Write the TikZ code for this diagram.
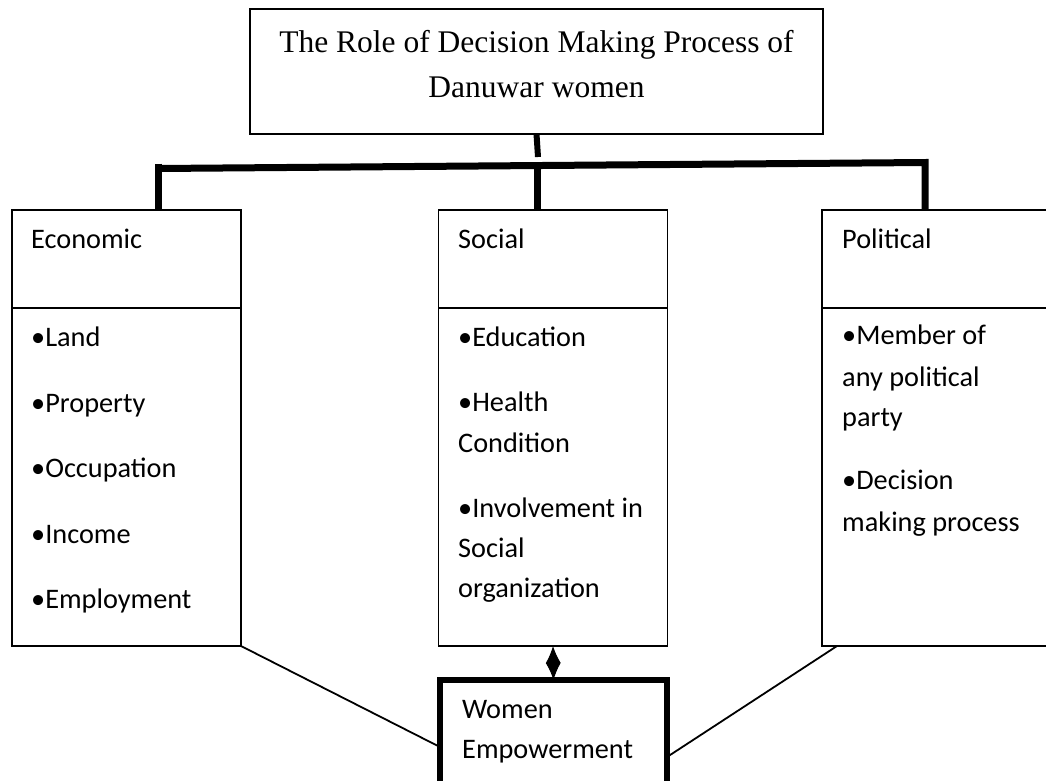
\documentclass[tikz,border=0pt]{standalone}
\usepackage{fontspec}
\setmainfont{Liberation Serif}
\newfontfamily\carlito{Carlito}
\usetikzlibrary{calc,arrows.meta}
\tikzset{
    box/.style = {
        draw, rectangle,
        outer sep=0,
        inner sep=0,
        line width=1.8pt
    },
    head/.style = {
        box,
        minimum width={229pt},
        minimum height={98pt}
    },
    list/.style = {
        box,
        minimum width={229pt},
        minimum height={338pt}
    },
    txt/.style = {
        anchor=base west,
        inner sep=0,
        font=\carlito\fontsize{28.3}{41}\selectfont
    },
    ttl/.style = {
        anchor=base,
        inner sep=0,
        font=\fontsize{31.5}{46}\selectfont
    },
    bar/.style = {
        line width=7pt
    }
}

\begin{document}
\begin{tikzpicture}[x=1pt,y=-1pt]
\useasboundingbox (0,0) rectangle (1046,780);
\clip (0,0) rectangle (1046,780);

% 1. title box
\node[box,minimum width={573pt},minimum height={125pt}] (title) at (536.5,71.5) {};
\node[ttl] (ttl1) at (536.5,52) {The Role of Decision Making Process of};
\node[ttl] (ttl2) at (536.5,97) {Danuwar women};

% 2. header and list boxes
\node[head] (ecoH) at (126.5,259) {};
\node[list] (ecoL) at (126.5,477) {};
\node[head] (socH) at (553,259) {};
\node[list] (socL) at (553,477) {};
\node[head] (polH) at (936.5,259) {};
\node[list] (polL) at (936.5,477) {};
\node[box,line width=6pt,minimum width={227pt},minimum height={134pt}] (we) at (553.5,747) {};

% 3. texts -- one node per line
\node[txt] (ecoT) at (31,248) {Economic};
\node[txt] (socT) at (458,248) {Social};
\node[txt] (polT) at (842,248) {Political};
\foreach \y/\t [count=\i] in {346/•Land,412/•Property,477/•Occupation,543/•Income,608/•Employment}
  \node[txt] (eco\i) at (31,\y) {\t};
\foreach \y/\t [count=\i] in {346/•Education,411/•Health,452/Condition,517/•Involvement in,557/Social,597/organization}
  \node[txt] (soc\i) at (458,\y) {\t};
\foreach \y/\t [count=\i] in {344/•Member of,386/any political,426/party,489/•Decision,531/making process}
  \node[txt] (pol\i) at (842,\y) {\t};
\node[txt] (we1) at (462,718) {Women};
\node[txt] (we2) at (462,758) {Empowerment};

% 4. thick bar under the title
\coordinate (bl) at (158,168.5);
\coordinate (bm) at (537,165.5);
\coordinate (br) at (925,162.5);
\coordinate (st) at (538,157);
\draw[line width=6pt] (title.south) -- (st);
\draw[bar] (bl) -- (br) -- (br |- polH.north);
\draw[bar] ($(bl)+(0,-5)$) -- (bl |- ecoH.north);
\draw[bar] (bm) -- (bm |- socH.north);

% 5. links to women empowerment
\draw[line width=1.8pt] (ecoL.south east) -- (we.west);
\draw[line width=1.8pt] ($(polL.south west)+(15,0)$) -- ($(we.east)+(0,10)$);
\draw[line width=1pt,{Latex[length=17pt,width=15pt]}-{Latex[length=17pt,width=15pt]}] (socL.south) -- (we.north);

\end{tikzpicture}
\end{document}
